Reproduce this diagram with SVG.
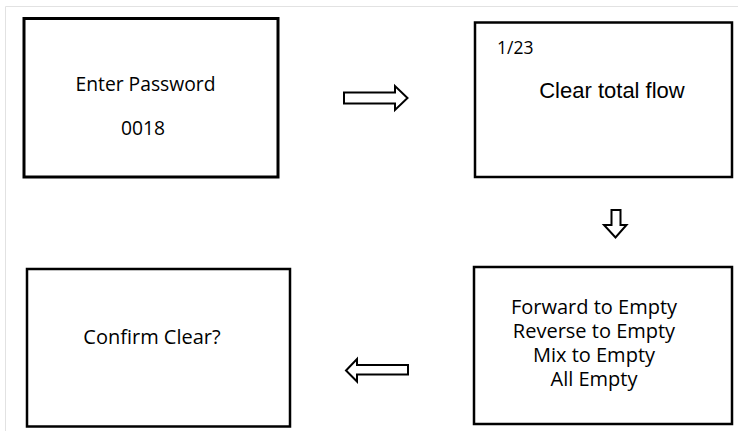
<svg xmlns="http://www.w3.org/2000/svg" width="738" height="431" viewBox="0 0 738 431">
<style>
.box{fill:#fff;stroke:#000;stroke-width:2.5}
.arr{fill:#fff;stroke:#000;stroke-width:2;stroke-linejoin:miter}
.t{font-family:"Open Sans","Noto Sans","Liberation Sans",sans-serif;font-size:20px;fill:#000;text-anchor:middle}
.a{font-family:"Liberation Sans",Arial,sans-serif;font-size:22px;fill:#000;text-anchor:middle}
</style>
<rect width="738" height="431" fill="#fff"/>
<path d="M5.5 431V6.5H738" fill="none" stroke="#e2e2e2" stroke-width="1"/>
<g id="node-password">
<rect class="box" x="24" y="18.5" width="254" height="158.5" style="stroke-width:3"/>
<text class="t" x="145.5" y="91" style="font-size:19.3px">Enter Password</text>
<text class="t" x="143" y="135" style="font-size:19.3px">0018</text>
</g>
<g id="node-clear-total">
<rect class="box" x="475" y="22.5" width="257" height="154.5"/>
<text class="t" x="497" y="54" style="text-anchor:start;font-size:17.5px">1/23</text>
<text class="a" x="612" y="98">Clear total flow</text>
</g>
<g id="node-empty-options">
<rect class="box" x="474" y="267" width="258" height="157"/>
<text class="t" x="594" y="314">Forward to Empty</text>
<text class="t" x="594" y="338">Reverse to Empty</text>
<text class="t" x="594" y="362">Mix to Empty</text>
<text class="t" x="594" y="386">All Empty</text>
</g>
<g id="node-confirm">
<rect class="box" x="27" y="269" width="263" height="157.5"/>
<text class="t" x="152" y="344">Confirm Clear?</text>
</g>
<g id="connectors">
<path class="arr" d="M344 92.5H395V86L407.5 98L395 110V103.5H344Z"/>
<path class="arr" d="M611.5 210H620.5V225H626.5L615.5 237.5L604 225H611.5Z"/>
<path class="arr" d="M408 365H357V359L346 370.5L357 381.5V374.5H408Z"/>
</g>
</svg>
